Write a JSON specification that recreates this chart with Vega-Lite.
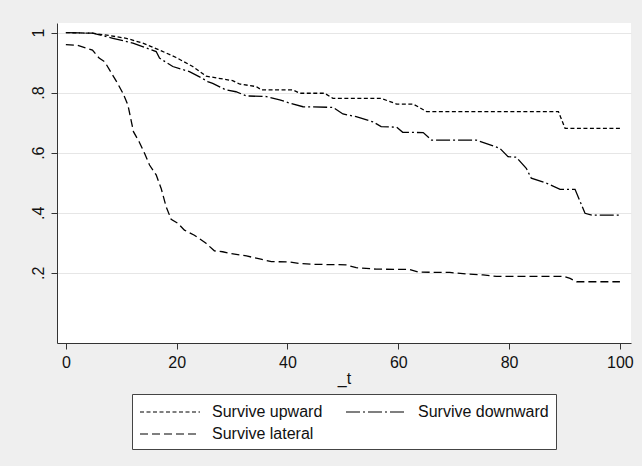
{
  "$schema": "https://vega.github.io/schema/vega-lite/v6.json",
  "width": 574,
  "height": 320,
  "autosize": "none",
  "padding": {"left": 57, "top": 23, "right": 11, "bottom": 123},
  "background": "#efefef",
  "config": {
    "view": {"fill": "white", "stroke": null},
    "font": "Liberation Sans",
    "axis": {
      "domainColor": "#333333",
      "tickColor": "#333333",
      "labelColor": "#111111",
      "titleColor": "#111111",
      "labelFont": "Liberation Sans",
      "titleFont": "Liberation Sans",
      "labelFontSize": 16,
      "titleFontSize": 16,
      "titleFontWeight": "normal",
      "tickSize": 6
    }
  },
  "data": {
    "values": [
      {"t": 0, "s": 1.0, "series": "Survive upward"},
      {"t": 4.8, "s": 0.998, "series": "Survive upward"},
      {"t": 7.9, "s": 0.99, "series": "Survive upward"},
      {"t": 10.9, "s": 0.981, "series": "Survive upward"},
      {"t": 13.9, "s": 0.965, "series": "Survive upward"},
      {"t": 16.9, "s": 0.942, "series": "Survive upward"},
      {"t": 19.9, "s": 0.917, "series": "Survive upward"},
      {"t": 22.9, "s": 0.887, "series": "Survive upward"},
      {"t": 24.2, "s": 0.87, "series": "Survive upward"},
      {"t": 25.3, "s": 0.855, "series": "Survive upward"},
      {"t": 30.1, "s": 0.84, "series": "Survive upward"},
      {"t": 31.3, "s": 0.829, "series": "Survive upward"},
      {"t": 34.4, "s": 0.82, "series": "Survive upward"},
      {"t": 35.3, "s": 0.809, "series": "Survive upward"},
      {"t": 41, "s": 0.809, "series": "Survive upward"},
      {"t": 42.2, "s": 0.798, "series": "Survive upward"},
      {"t": 46.7, "s": 0.798, "series": "Survive upward"},
      {"t": 48.2, "s": 0.781, "series": "Survive upward"},
      {"t": 56.9, "s": 0.781, "series": "Survive upward"},
      {"t": 59.7, "s": 0.762, "series": "Survive upward"},
      {"t": 62.7, "s": 0.762, "series": "Survive upward"},
      {"t": 65.1, "s": 0.737, "series": "Survive upward"},
      {"t": 88.9, "s": 0.737, "series": "Survive upward"},
      {"t": 90.1, "s": 0.681, "series": "Survive upward"},
      {"t": 100, "s": 0.681, "series": "Survive upward"},

      {"t": 0, "s": 1.0, "series": "Survive downward"},
      {"t": 4.8, "s": 0.998, "series": "Survive downward"},
      {"t": 8.5, "s": 0.981, "series": "Survive downward"},
      {"t": 12.1, "s": 0.965, "series": "Survive downward"},
      {"t": 16.3, "s": 0.937, "series": "Survive downward"},
      {"t": 16.9, "s": 0.915, "series": "Survive downward"},
      {"t": 19.3, "s": 0.887, "series": "Survive downward"},
      {"t": 22.3, "s": 0.87, "series": "Survive downward"},
      {"t": 24.4, "s": 0.85, "series": "Survive downward"},
      {"t": 25.6, "s": 0.837, "series": "Survive downward"},
      {"t": 26.5, "s": 0.831, "series": "Survive downward"},
      {"t": 28.9, "s": 0.809, "series": "Survive downward"},
      {"t": 30.7, "s": 0.803, "series": "Survive downward"},
      {"t": 32.6, "s": 0.789, "series": "Survive downward"},
      {"t": 36.2, "s": 0.787, "series": "Survive downward"},
      {"t": 38.6, "s": 0.776, "series": "Survive downward"},
      {"t": 40.4, "s": 0.765, "series": "Survive downward"},
      {"t": 42.8, "s": 0.753, "series": "Survive downward"},
      {"t": 48.2, "s": 0.751, "series": "Survive downward"},
      {"t": 50, "s": 0.729, "series": "Survive downward"},
      {"t": 52.4, "s": 0.72, "series": "Survive downward"},
      {"t": 55.4, "s": 0.703, "series": "Survive downward"},
      {"t": 56.9, "s": 0.687, "series": "Survive downward"},
      {"t": 59.7, "s": 0.685, "series": "Survive downward"},
      {"t": 60.8, "s": 0.668, "series": "Survive downward"},
      {"t": 64.5, "s": 0.667, "series": "Survive downward"},
      {"t": 66, "s": 0.642, "series": "Survive downward"},
      {"t": 74.1, "s": 0.642, "series": "Survive downward"},
      {"t": 78.3, "s": 0.615, "series": "Survive downward"},
      {"t": 79.8, "s": 0.587, "series": "Survive downward"},
      {"t": 81.3, "s": 0.585, "series": "Survive downward"},
      {"t": 83.1, "s": 0.548, "series": "Survive downward"},
      {"t": 84, "s": 0.515, "series": "Survive downward"},
      {"t": 86.8, "s": 0.498, "series": "Survive downward"},
      {"t": 89.2, "s": 0.478, "series": "Survive downward"},
      {"t": 91.9, "s": 0.478, "series": "Survive downward"},
      {"t": 93.7, "s": 0.398, "series": "Survive downward"},
      {"t": 95, "s": 0.392, "series": "Survive downward"},
      {"t": 100, "s": 0.392, "series": "Survive downward"},

      {"t": 0, "s": 0.96, "series": "Survive lateral"},
      {"t": 2, "s": 0.958, "series": "Survive lateral"},
      {"t": 4.8, "s": 0.942, "series": "Survive lateral"},
      {"t": 6, "s": 0.915, "series": "Survive lateral"},
      {"t": 7, "s": 0.903, "series": "Survive lateral"},
      {"t": 9.3, "s": 0.832, "series": "Survive lateral"},
      {"t": 10.3, "s": 0.798, "series": "Survive lateral"},
      {"t": 11.2, "s": 0.759, "series": "Survive lateral"},
      {"t": 12.2, "s": 0.67, "series": "Survive lateral"},
      {"t": 13.2, "s": 0.637, "series": "Survive lateral"},
      {"t": 14.2, "s": 0.598, "series": "Survive lateral"},
      {"t": 15.1, "s": 0.559, "series": "Survive lateral"},
      {"t": 16.3, "s": 0.526, "series": "Survive lateral"},
      {"t": 17.2, "s": 0.481, "series": "Survive lateral"},
      {"t": 18.1, "s": 0.42, "series": "Survive lateral"},
      {"t": 19, "s": 0.378, "series": "Survive lateral"},
      {"t": 20.2, "s": 0.365, "series": "Survive lateral"},
      {"t": 21.4, "s": 0.342, "series": "Survive lateral"},
      {"t": 23.2, "s": 0.325, "series": "Survive lateral"},
      {"t": 25.3, "s": 0.298, "series": "Survive lateral"},
      {"t": 26.8, "s": 0.273, "series": "Survive lateral"},
      {"t": 28.3, "s": 0.27, "series": "Survive lateral"},
      {"t": 29.5, "s": 0.265, "series": "Survive lateral"},
      {"t": 32.6, "s": 0.256, "series": "Survive lateral"},
      {"t": 35, "s": 0.246, "series": "Survive lateral"},
      {"t": 37.1, "s": 0.237, "series": "Survive lateral"},
      {"t": 40.4, "s": 0.236, "series": "Survive lateral"},
      {"t": 42.2, "s": 0.231, "series": "Survive lateral"},
      {"t": 44.6, "s": 0.228, "series": "Survive lateral"},
      {"t": 48.8, "s": 0.227, "series": "Survive lateral"},
      {"t": 50.6, "s": 0.226, "series": "Survive lateral"},
      {"t": 52.4, "s": 0.217, "series": "Survive lateral"},
      {"t": 56, "s": 0.212, "series": "Survive lateral"},
      {"t": 62, "s": 0.211, "series": "Survive lateral"},
      {"t": 63.6, "s": 0.202, "series": "Survive lateral"},
      {"t": 69.3, "s": 0.201, "series": "Survive lateral"},
      {"t": 72.3, "s": 0.196, "series": "Survive lateral"},
      {"t": 75.3, "s": 0.193, "series": "Survive lateral"},
      {"t": 77.7, "s": 0.188, "series": "Survive lateral"},
      {"t": 89.8, "s": 0.188, "series": "Survive lateral"},
      {"t": 91, "s": 0.181, "series": "Survive lateral"},
      {"t": 92.2, "s": 0.17, "series": "Survive lateral"},
      {"t": 100, "s": 0.17, "series": "Survive lateral"}
    ]
  },
  "mark": {"type": "line", "color": "black", "strokeWidth": 1.3},
  "encoding": {
    "x": {
      "field": "t",
      "type": "quantitative",
      "scale": {"domain": [-1.6, 102], "nice": false, "zero": false},
      "axis": {
        "title": "_t",
        "values": [0, 20, 40, 60, 80, 100],
        "grid": false,
        "labelPadding": 5,
        "titlePadding": 0
      }
    },
    "y": {
      "field": "s",
      "type": "quantitative",
      "scale": {"domain": [-0.034, 1.032], "nice": false, "zero": false},
      "axis": {
        "title": null,
        "values": [0.2, 0.4, 0.6, 0.8, 1],
        "labelExpr": "datum.value == 1 ? '1' : replace(format(datum.value, '.1f'), '0.', '.')",
        "labelAngle": -90,
        "labelAlign": "center",
        "labelBaseline": "alphabetic",
        "labelPadding": 8,
        "grid": true,
        "gridColor": "#e6e6e6",
        "gridWidth": 1.2
      }
    },
    "strokeDash": {
      "field": "series",
      "type": "nominal",
      "scale": {
        "domain": ["Survive upward", "Survive downward", "Survive lateral"],
        "range": [[4, 2.5], [14, 3, 2, 3], [8, 4]]
      },
      "legend": {
        "title": null,
        "orient": "none",
        "legendX": 75,
        "legendY": 371,
        "direction": "horizontal",
        "columns": 2,
        "columnPadding": 20,
        "rowPadding": 3,
        "padding": 7,
        "strokeColor": "#444444",
        "fillColor": "white",
        "symbolType": "M-1,0H5",
        "symbolSize": 400,
        "symbolStrokeWidth": 1.2,
        "symbolStrokeColor": "black",
        "symbolFillColor": "transparent",
        "labelFont": "Liberation Sans",
        "labelFontSize": 16,
        "labelColor": "#111111",
        "labelOffset": 51,
        "labelLimit": 300
      }
    }
  }
}
